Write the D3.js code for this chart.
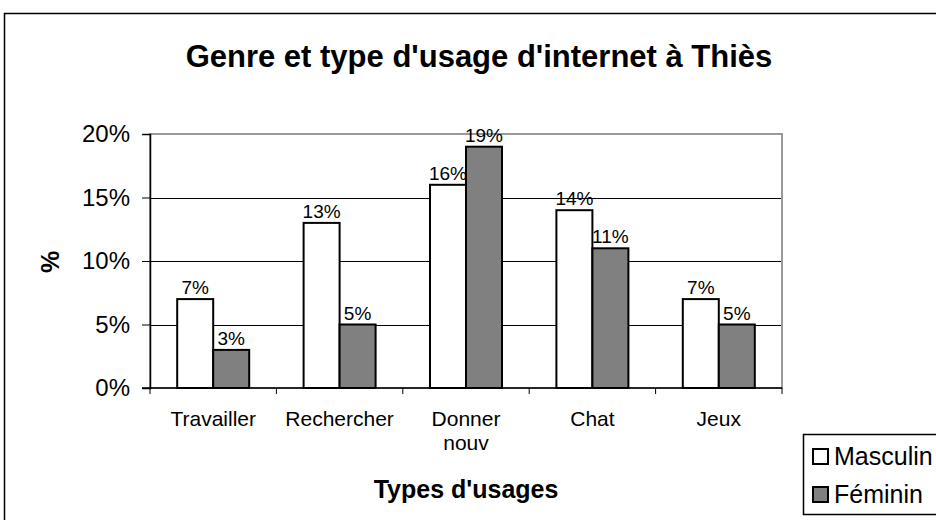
<!DOCTYPE html>
<html>
<head>
<meta charset="utf-8">
<script src="https://cdn.jsdelivr.net/npm/d3@7"></script>
<style>
  body { margin: 0; background: #fff; }
  text { font-family: "Liberation Sans", Arial, sans-serif; }
</style>
</head>
<body>
<div id="cont"></div>
<script>
var categories = ["Travailler", "Rechercher", "Donner nouv", "Chat", "Jeux"];
var series = ["Masculin", "Féminin"];
var masculin = [7, 13, 16, 14, 7];
var feminin = [3, 5, 19, 11, 5];
var yTicks = [0, 5, 10, 15, 20];
var colors = ["#ffffff", "#808080"];

var width = 936, height = 520;
var plot = {left: 150, right: 782, top: 134, bottom: 388};
var barW = 36;

var svg = d3.select("#cont").append("svg")
  .attr("width", width).attr("height", height);

// outer chart frame
svg.append("rect")
  .attr("x", 4.5).attr("y", 13.5)
  .attr("width", 960).attr("height", 540)
  .attr("fill", "#fff").attr("stroke", "#000").attr("stroke-width", 1.5);

var x = d3.scaleBand().domain(categories).range([plot.left, plot.right]);
var y = d3.scaleLinear().domain([0, 20]).range([plot.bottom, plot.top]);

// gridlines
svg.append("g").selectAll("line")
  .data(yTicks.filter(function(d){ return d > 0 && d < 20; }))
  .enter().append("line")
  .attr("x1", plot.left).attr("x2", plot.right)
  .attr("y1", function(d){ return Math.round(y(d)) + 0.5; })
  .attr("y2", function(d){ return Math.round(y(d)) + 0.5; })
  .attr("stroke", "#000").attr("stroke-width", 1);

// plot area border (gray)
svg.append("rect")
  .attr("x", plot.left).attr("y", plot.top)
  .attr("width", plot.right - plot.left).attr("height", plot.bottom - plot.top)
  .attr("fill", "none").attr("stroke", "#999").attr("stroke-width", 2);

// bars
var groups = svg.append("g").selectAll("g")
  .data(categories)
  .enter().append("g");

var values = [masculin, feminin];
values.forEach(function(vals, s) {
  groups.append("rect")
    .attr("x", function(d){ return x(d) + x.bandwidth() / 2 - barW + s * barW; })
    .attr("y", function(d, i){ return y(vals[i]); })
    .attr("width", barW)
    .attr("height", function(d, i){ return y(0) - y(vals[i]); })
    .attr("fill", colors[s]).attr("stroke", "#000").attr("stroke-width", 2);
  groups.append("text")
    .attr("x", function(d){ return x(d) + x.bandwidth() / 2 - barW / 2 + s * barW; })
    .attr("y", function(d, i){ return y(vals[i]) - 5; })
    .attr("text-anchor", "middle")
    .style("font-size", "19px")
    .text(function(d, i){ return vals[i] + "%"; });
});

// y axis
var yAxis = d3.axisLeft(y).tickValues(yTicks).tickSize(8).tickPadding(12)
  .tickFormat(function(d){ return d + "%"; });
var gy = svg.append("g").attr("transform", "translate(" + plot.left + ",0)").call(yAxis);
gy.selectAll("text").style("font-size", "24px").attr("fill", "#000")
  .style("font-family", '"Liberation Sans", Arial, sans-serif');
gy.select(".domain").attr("stroke", "#000").attr("stroke-width", 1.5);

// x axis
svg.append("line")
  .attr("x1", plot.left - 8).attr("x2", plot.right)
  .attr("y1", plot.bottom).attr("y2", plot.bottom)
  .attr("stroke", "#000").attr("stroke-width", 1.5);
var bounds = categories.map(function(d){ return x(d); }).concat([plot.right]);
svg.append("g").selectAll("line").data(bounds).enter().append("line")
  .attr("x1", function(d){ return d; }).attr("x2", function(d){ return d; })
  .attr("y1", plot.bottom).attr("y2", plot.bottom + 6)
  .attr("stroke", "#000").attr("stroke-width", 1);

var xl = svg.append("g").selectAll("text").data(categories).enter().append("text")
  .attr("x", function(d){ return x(d) + x.bandwidth() / 2; })
  .attr("y", 426)
  .attr("text-anchor", "middle")
  .style("font-size", "21px");
xl.each(function(d) {
  var words = d === "Donner nouv" ? ["Donner", "nouv"] : [d];
  var t = d3.select(this);
  words.forEach(function(w, i) {
    t.append("tspan").attr("x", x(d) + x.bandwidth() / 2).attr("dy", i ? 24 : 0).text(w);
  });
});

// titles
svg.append("text")
  .attr("x", 479).attr("y", 67)
  .attr("text-anchor", "middle")
  .style("font-size", "31px").style("font-weight", "bold")
  .text("Genre et type d'usage d'internet à Thiès");

svg.append("text")
  .attr("transform", "translate(59,262) rotate(-90)")
  .attr("text-anchor", "middle")
  .style("font-size", "25px").style("font-weight", "bold")
  .text("%");

svg.append("text")
  .attr("x", 466).attr("y", 498)
  .attr("text-anchor", "middle")
  .style("font-size", "25px").style("font-weight", "bold")
  .text("Types d'usages");

// legend
var lg = svg.append("g");
lg.append("rect")
  .attr("x", 803.5).attr("y", 434.5).attr("width", 150).attr("height", 80)
  .attr("fill", "#fff").attr("stroke", "#000").attr("stroke-width", 1.5);
series.forEach(function(s, i) {
  lg.append("rect")
    .attr("x", 813).attr("y", 449 + i * 38).attr("width", 15).attr("height", 15)
    .attr("fill", colors[i]).attr("stroke", "#000").attr("stroke-width", 2);
  lg.append("text")
    .attr("x", 834).attr("y", 465 + i * 38)
    .style("font-size", "25px")
    .text(s);
});
</script>
</body>
</html>
